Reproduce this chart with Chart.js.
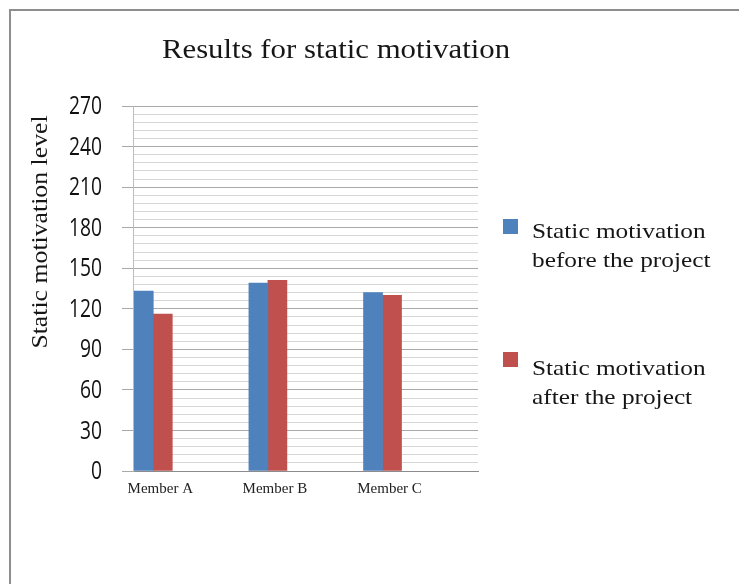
<!DOCTYPE html>
<html>
<head>
<meta charset="utf-8">
<script src="https://cdn.jsdelivr.net/npm/chart.js@4/dist/chart.umd.min.js"></script>
<style>
  html, body { margin: 0; padding: 0; background: #ffffff; }
  #wrap { position: relative; width: 739px; height: 584px; overflow: hidden; }
  #wrap canvas { position: absolute; left: 0; top: 0; }
  #frame {
    position: absolute; left: 9px; top: 9px; right: -10px; bottom: -10px;
    border-top: 2px solid #8e8e8e; border-left: 2px solid #8e8e8e;
    pointer-events: none;
  }
</style>
</head>
<body>
<div id="wrap">
  <canvas id="chart" width="739" height="584"></canvas>
  <div id="frame"></div>
</div>
<script>
// Categories and series values
const members = ['Member A', 'Member B', 'Member C'];
const beforeProject = [133, 139, 132];
const afterProject = [116, 141, 130];

// Series names (two lines each) and colours
const seriesLines = [
  ['Static motivation', 'before the project'],
  ['Static motivation', 'after the project']
];
const seriesColors = ['#4f81bd', '#c0504d'];

// Value axis: labelled every 30, light grid every 6
const yMax = 270;
const yMajorStep = 30;
const yMinorStep = 6;

const chartTitle = 'Results for static motivation';
const yAxisTitle = 'Static motivation level';

const SERIF = '"Liberation Serif", "Times New Roman", serif';
const SANS = '"Open Sans", "Liberation Sans", sans-serif';
const TEXT_COLOR = '#161616';

// Title, rotated axis title, condensed value-axis labels and the two-line legend
const chartTexts = {
  id: 'chartTexts',
  afterDraw(chart, args, opts) {
    const ctx = chart.ctx;
    ctx.save();
    ctx.fillStyle = TEXT_COLOR;
    ctx.textBaseline = 'alphabetic';

    // chart title
    ctx.save();
    ctx.font = '28px ' + SERIF;
    ctx.textAlign = 'center';
    ctx.translate(opts.titleX, opts.titleY);
    ctx.scale(1.1, 1);
    ctx.fillText(chartTitle, 0, 0);
    ctx.restore();

    // value axis title
    ctx.save();
    ctx.font = '23px ' + SERIF;
    ctx.textAlign = 'center';
    ctx.translate(opts.axisTitleX, opts.axisTitleY);
    ctx.rotate(-Math.PI / 2);
    ctx.scale(1.12, 1);
    ctx.fillText(yAxisTitle, 0, 0);
    ctx.restore();

    // value axis tick labels, placed on the scale's own ticks
    const yScale = chart.scales.y;
    ctx.font = '25px ' + SANS;
    ctx.textAlign = 'right';
    ctx.textBaseline = 'middle';
    ctx.fillStyle = '#111111';
    yScale.ticks.forEach((tick) => {
      if (!tick.label) return;
      ctx.save();
      ctx.translate(yScale.right - opts.yLabelGap, yScale.getPixelForValue(tick.value) + 1);
      ctx.scale(0.77, 1);
      ctx.fillText(tick.label, 0, 0);
      ctx.restore();
    });
    ctx.textBaseline = 'alphabetic';

    // legend
    chart.data.datasets.forEach((ds, i) => {
      ctx.fillStyle = ds.backgroundColor;
      ctx.fillRect(opts.legendBoxX, opts.legendBoxY[i], opts.legendBoxSize, opts.legendBoxSize);
      ctx.fillStyle = TEXT_COLOR;
      ctx.font = '22px ' + SERIF;
      ctx.textAlign = 'left';
      seriesLines[i].forEach((line, k) => {
        ctx.save();
        ctx.translate(opts.legendTextX, opts.legendTextY[i] + k * opts.legendLineGap);
        ctx.scale(1.15, 1);
        ctx.fillText(line, 0, 0);
        ctx.restore();
      });
    });
    ctx.restore();
  }
};

const datasets = [beforeProject, afterProject].map((values, i) => ({
  label: seriesLines[i].join(' '),
  data: values.map((v, idx) => ({ x: idx, y: v })),
  backgroundColor: seriesColors[i],
  borderWidth: 0,
  barThickness: 19
}));

new Chart(document.getElementById('chart'), {
  type: 'bar',
  data: { datasets },
  plugins: [chartTexts],
  options: {
    responsive: false,
    animation: false,
    devicePixelRatio: 1,
    layout: { padding: { left: 0, top: 106, right: 261, bottom: 0 } },
    plugins: {
      legend: { display: false },
      title: { display: false },
      tooltip: { enabled: false },
      chartTexts: {
        titleX: 336, titleY: 58,
        axisTitleX: 47, axisTitleY: 232,
        yLabelGap: 31,
        legendBoxX: 503, legendBoxY: [219, 352], legendBoxSize: 15,
        legendTextX: 532, legendTextY: [237.5, 375], legendLineGap: 29
      }
    },
    scales: {
      x: {
        type: 'linear',
        offset: false,
        min: -0.177,
        max: 2.833,
        afterFit(scale) { scale.height = 113; },
        grid: { display: false, drawTicks: false },
        border: { display: true, color: '#8c8c8c', width: 1 },
        ticks: {
          stepSize: 1,
          includeBounds: false,
          autoSkip: false,
          maxRotation: 0,
          padding: 9,
          labelOffset: 7,
          color: '#222222',
          font: { family: SERIF, size: 15 },
          callback: (v) => (Number.isInteger(v) && members[v] !== undefined ? members[v] : '')
        }
      },
      y: {
        type: 'linear',
        min: 0,
        max: yMax,
        afterFit(scale) { scale.width = 133; },
        grid: {
          color: (c) => (c.tick && c.tick.value % yMajorStep === 0 ? '#a9a9a9' : '#d6d6d6'),
          tickColor: (c) => (c.tick && c.tick.value % yMajorStep === 0 ? '#a9a9a9' : 'rgba(0,0,0,0)'),
          lineWidth: 1,
          drawTicks: true,
          tickLength: 11
        },
        border: { display: true, color: '#bdbdbd', width: 1 },
        ticks: {
          display: false,
          stepSize: yMinorStep,
          maxTicksLimit: 100,
          autoSkip: false,
          callback: (v) => (v % yMajorStep === 0 ? String(v) : '')
        }
      }
    }
  }
});
</script>
</body>
</html>
